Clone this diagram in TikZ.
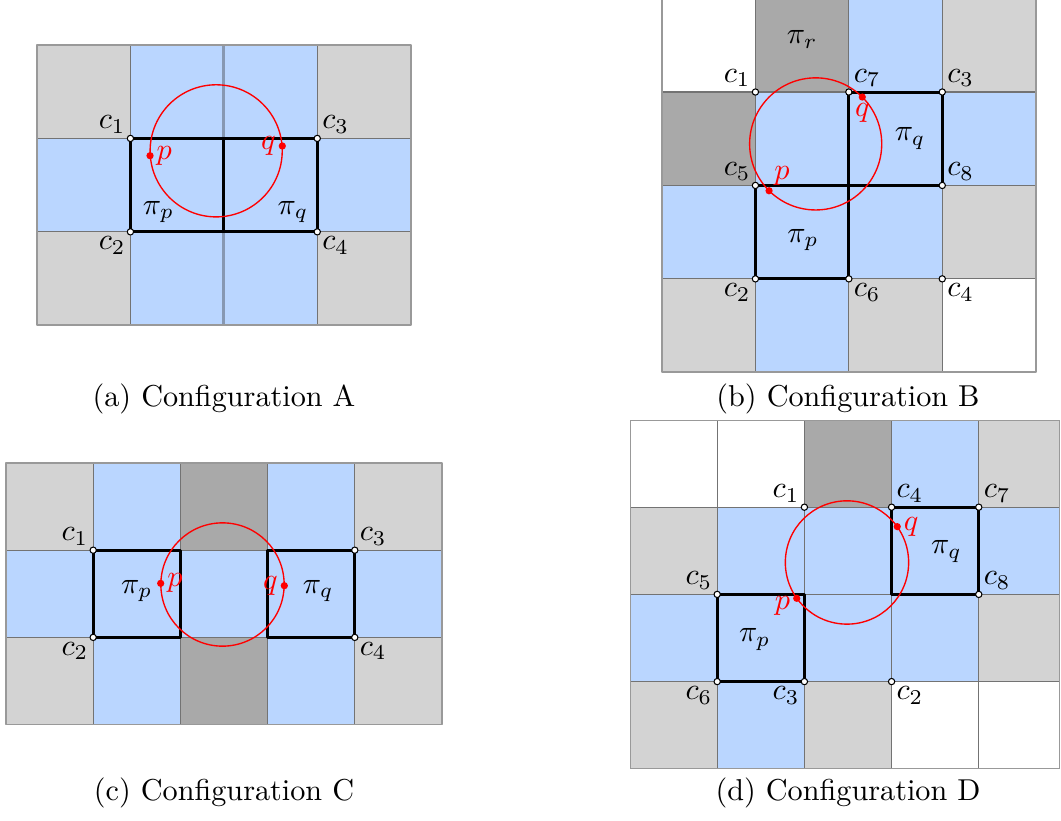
\documentclass[tikz,border=0pt]{standalone}
\usetikzlibrary{calc}
\definecolor{cellblue}{RGB}{186,214,255}
\definecolor{celllight}{RGB}{211,211,211}
\definecolor{celldark}{RGB}{169,169,169}
\definecolor{midline}{RGB}{135,152,178}
\tikzset{
  gridline/.style={draw=black!55, line width=0.4pt},
  frame/.style={draw=black!40, line width=0.6pt},
  tile/.style={draw=black, line width=1pt},
  corner/.style={circle, draw=black, fill=white, line width=0.35pt, inner sep=0pt, minimum size=2.1pt},
  pt/.style={circle, fill=red, inner sep=0pt, minimum size=2.4pt},
  ring/.style={draw=red, line width=0.45pt},
  every label/.append style={inner sep=0.6pt},
}
\begin{document}
\begin{tikzpicture}[x=0.331pt, y=-0.331pt, line join=round]
	\useasboundingbox (0,0) rectangle (1061,820);
	\clip (0,0) rectangle (1061,820);
	% (a)
	\begin{scope}[shift={(37,45)}, x=30.92pt, y=-30.92pt]
		\fill[cellblue] (0,0) rectangle (4,3);
		\foreach \i/\j in {0/0,3/0,0/2,3/2}
			\fill[celllight] (\i,\j) rectangle ++(1,1);
		\foreach \i in {1,3}
			\draw[gridline] (\i,0) -- (\i,3);
		\foreach \j in {1,2}
			\draw[gridline] (0,\j) -- (4,\j);
		\draw[midline, line width=0.9pt] (2,0) -- (2,3);
		\draw[frame] (0,0) rectangle (4,3);
		\draw[tile] (1,1) rectangle (3,2) (2,1) -- (2,2);
		\node (a-pip) at (1.30,1.79) {$\pi_p$};
		\node (a-piq) at (2.74,1.79) {$\pi_q$};
		\node[pt, label={[red]right:$p$}] (a-p) at (1.21,1.185) {};
		\node[pt, label={[red]left:$q$}] (a-q) at (2.626,1.081) {};
		\draw[ring] ($(a-p)!0.5!(a-q)$) circle[radius=0.7071];
		\node[corner, label={above left:$c_1$}] (a-c1) at (1,1) {};
		\node[corner, label={below left:$c_2$}] (a-c2) at (1,2) {};
		\node[corner, label={above right:$c_3$}] (a-c3) at (3,1) {};
		\node[corner, label={below right:$c_4$}] (a-c4) at (3,2) {};
	\end{scope}
	% (b)
	\begin{scope}[shift={(662,-1.4)}, x=30.92pt, y=-30.92pt]
		\fill[cellblue] (0,0) rectangle (4,4);
		\foreach \i/\j in {3/0,3/2,0/3,2/3}
			\fill[celllight] (\i,\j) rectangle ++(1,1);
		\foreach \i/\j in {1/0,0/1}
			\fill[celldark] (\i,\j) rectangle ++(1,1);
		\foreach \i/\j in {0/0,3/3}
			\fill[white] (\i,\j) rectangle ++(1,1);
		\foreach \k in {1,2,3} {
			\draw[gridline] (\k,0) -- (\k,4);
			\draw[gridline] (0,\k) -- (4,\k);
		}
		\draw[frame] (0,0) rectangle (4,4);
		\draw[tile] (2,1) rectangle (3,2) (1,2) rectangle (2,3);
		\node (b-pir) at (1.50,0.44) {$\pi_r$};
		\node (b-piq) at (2.655,1.50) {$\pi_q$};
		\node (b-pip) at (1.51,2.585) {$\pi_p$};
		\node[pt, label={[red]above right:$p$}] (b-p) at (1.146,2.057) {};
		\node[pt, label={[red]below:$q$}] (b-q) at (2.144,1.054) {};
		\draw[ring] ($(b-p)!0.5!(b-q)$) circle[radius=0.7071];
		\node[corner, label={above left:$c_1$}] (b-c1) at (1,1) {};
		\node[corner, label={below left:$c_2$}] (b-c2) at (1,3) {};
		\node[corner, label={above right:$c_3$}] (b-c3) at (3,1) {};
		\node[corner, label={below right:$c_4$}] (b-c4) at (3,3) {};
		\node[corner, label={above left:$c_5$}] (b-c5) at (1,2) {};
		\node[corner, label={below right:$c_6$}] (b-c6) at (2,3) {};
		\node[corner, label={above right:$c_7$}] (b-c7) at (2,1) {};
		\node[corner, label={above right:$c_8$}] (b-c8) at (3,2) {};
	\end{scope}
	% (c)
	\begin{scope}[shift={(6,463)}, x=28.86pt, y=-28.86pt]
		\fill[cellblue] (0,0) rectangle (5,3);
		\foreach \i/\j in {0/0,4/0,0/2,4/2}
			\fill[celllight] (\i,\j) rectangle ++(1,1);
		\foreach \i/\j in {2/0,2/2}
			\fill[celldark] (\i,\j) rectangle ++(1,1);
		\foreach \i in {1,...,4}
			\draw[gridline] (\i,0) -- (\i,3);
		\foreach \j in {1,2}
			\draw[gridline] (0,\j) -- (5,\j);
		\draw[frame] (0,0) rectangle (5,3);
		\draw[tile] (1,1) rectangle (2,2) (3,1) rectangle (4,2);
		\node (c-pip) at (1.50,1.47) {$\pi_p$};
		\node (c-piq) at (3.58,1.47) {$\pi_q$};
		\node[pt, label={[red]right:$p$}] (c-p) at (1.774,1.380) {};
		\node[pt, label={[red]left:$q$}] (c-q) at (3.192,1.407) {};
		\draw[ring] ($(c-p)!0.5!(c-q)$) circle[radius=0.7071];
		\node[corner, label={above left:$c_1$}] (c-c1) at (1,1) {};
		\node[corner, label={below left:$c_2$}] (c-c2) at (1,2) {};
		\node[corner, label={above right:$c_3$}] (c-c3) at (4,1) {};
		\node[corner, label={below right:$c_4$}] (c-c4) at (4,2) {};
	\end{scope}
	% (d)
	\begin{scope}[shift={(630,420)}, x=28.86pt, y=-28.86pt]
		\clip (0,0) rectangle (4.93,4);
		\fill[cellblue] (0,0) rectangle (5,4);
		\foreach \i/\j in {4/0,0/1,4/2,0/3,2/3}
			\fill[celllight] (\i,\j) rectangle ++(1,1);
		\fill[celldark] (2,0) rectangle ++(1,1);
		\foreach \i/\j in {0/0,1/0,3/3,4/3}
			\fill[white] (\i,\j) rectangle ++(1,1);
		\foreach \i in {1,...,4}
			\draw[gridline] (\i,0) -- (\i,4);
		\foreach \j in {1,2,3}
			\draw[gridline] (0,\j) -- (5,\j);
		\draw[frame] (0,0) rectangle (4.93,4);
		\draw[tile] (3,1) rectangle (4,2) (1,2) rectangle (2,3);
		\node (d-piq) at (3.63,1.51) {$\pi_q$};
		\node (d-pip) at (1.43,2.52) {$\pi_p$};
		\node[pt, label={[red, yshift=-2.5pt]left:$p$}] (d-p) at (1.912,2.045) {};
		\node[pt, label={[red]right:$q$}] (d-q) at (3.065,1.223) {};
		\draw[ring] ($(d-p)!0.5!(d-q)$) circle[radius=0.7071];
		\node[corner, label={above left:$c_1$}] (d-c1) at (2,1) {};
		\node[corner, label={below right:$c_2$}] (d-c2) at (3,3) {};
		\node[corner, label={below left:$c_3$}] (d-c3) at (2,3) {};
		\node[corner, label={above right:$c_4$}] (d-c4) at (3,1) {};
		\node[corner, label={above left:$c_5$}] (d-c5) at (1,2) {};
		\node[corner, label={below left:$c_6$}] (d-c6) at (1,3) {};
		\node[corner, label={above right:$c_7$}] (d-c7) at (4,1) {};
		\node[corner, label={above right:$c_8$}] (d-c8) at (4,2) {};
	\end{scope}
	% captions
	\node[anchor=base] (cap-a) at (224,406) {(a) Configuration A};
	\node[anchor=base] (cap-b) at (848,406) {(b) Configuration B};
	\node[anchor=base] (cap-c) at (224,800) {(c) Configuration C};
	\node[anchor=base] (cap-d) at (848,800) {(d) Configuration D};
\end{tikzpicture}
\end{document}
